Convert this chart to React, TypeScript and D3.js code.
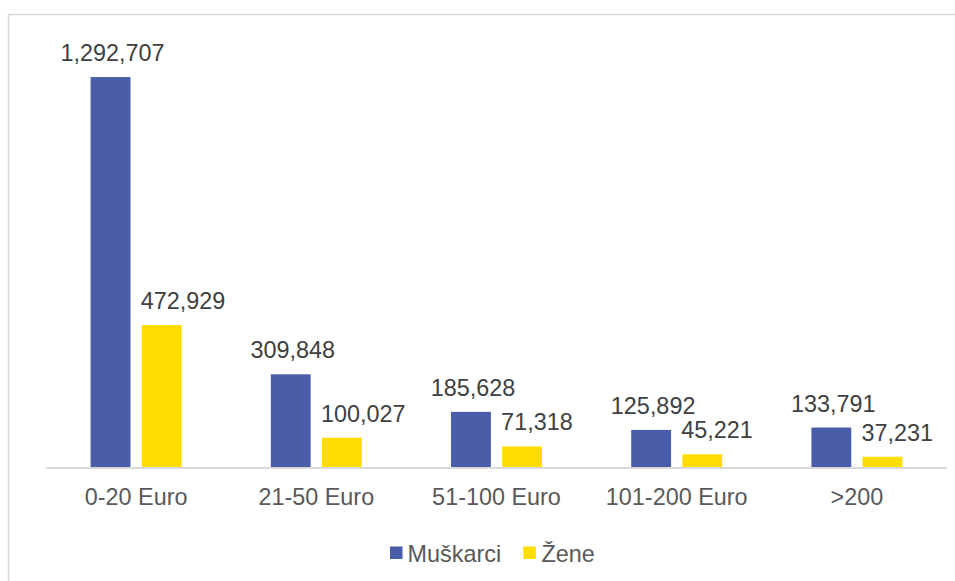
import React from "react";
import * as d3 from "d3";

const categories = ["0-20 Euro", "21-50 Euro", "51-100 Euro", "101-200 Euro", ">200"];
const seriesNames = ["Muškarci", "Žene"];
const muskarci = [1292707, 309848, 185628, 125892, 133791];
const zene = [472929, 100027, 71318, 45221, 37231];
const colors = ["#4A5DA9", "#FFDD00"];

const W = 955;
const H = 581;
const FONT = "'Liberation Sans', Arial, sans-serif";

export default function App() {
  const x0 = d3.scaleBand<string>().domain(categories).range([46, 947]).padding(0);
  const bw = x0.bandwidth();
  const x1 = d3
    .scaleBand<string>()
    .domain(seriesNames)
    .range([bw / 2 - 45.5, bw / 2 + 45.5])
    .paddingInner(0.22)
    .paddingOuter(0);
  const y = d3.scaleLinear().domain([0, 1400000]).range([468, 44.6]);
  const fmt = d3.format(",");
  const values = [muskarci, zene];

  return (
    <svg
      width={W}
      height={H}
      style={{ position: "absolute", left: 0, top: 0, background: "#fff" }}
      fontFamily={FONT}
    >
      <rect x={8.5} y={14.5} width={980} height={600} fill="#fff" stroke="#d9d9d9" strokeWidth={1.5} />
      {categories.map((c, ci) => (
        <g key={c} transform={`translate(${x0(c)},0)`}>
          {seriesNames.map((s, si) => {
            const v = values[si][ci];
            const bx = x1(s)!;
            const top = y(v);
            return (
              <g key={s}>
                <rect
                  x={bx}
                  y={top}
                  width={x1.bandwidth()}
                  height={y(0) - top}
                  fill={colors[si]}
                />
                <text
                  x={si === 0 ? bx + x1.bandwidth() / 2 + 2 : bx - 1}
                  y={top - 16}
                  textAnchor={si === 0 ? "middle" : "start"}
                  fontSize={23.4}
                  fill="#404040"
                >
                  {fmt(v)}
                </text>
              </g>
            );
          })}
          <text x={bw / 2} y={505} textAnchor="middle" fontSize={23.4} fill="#595959">
            {c}
          </text>
        </g>
      ))}
      <line x1={46} x2={947} y1={468} y2={468} stroke="#d9d9d9" strokeWidth={2} />
      <g>
        <rect x={390} y={546.5} width={12.5} height={12.5} fill={colors[0]} />
        <text x={407.5} y={561.5} fontSize={23.4} fill="#595959">
          {seriesNames[0]}
        </text>
        <rect x={523.3} y={546.5} width={12.5} height={12.5} fill={colors[1]} />
        <text x={541.5} y={561.5} fontSize={23.4} fill="#595959">
          {seriesNames[1]}
        </text>
      </g>
    </svg>
  );
}
